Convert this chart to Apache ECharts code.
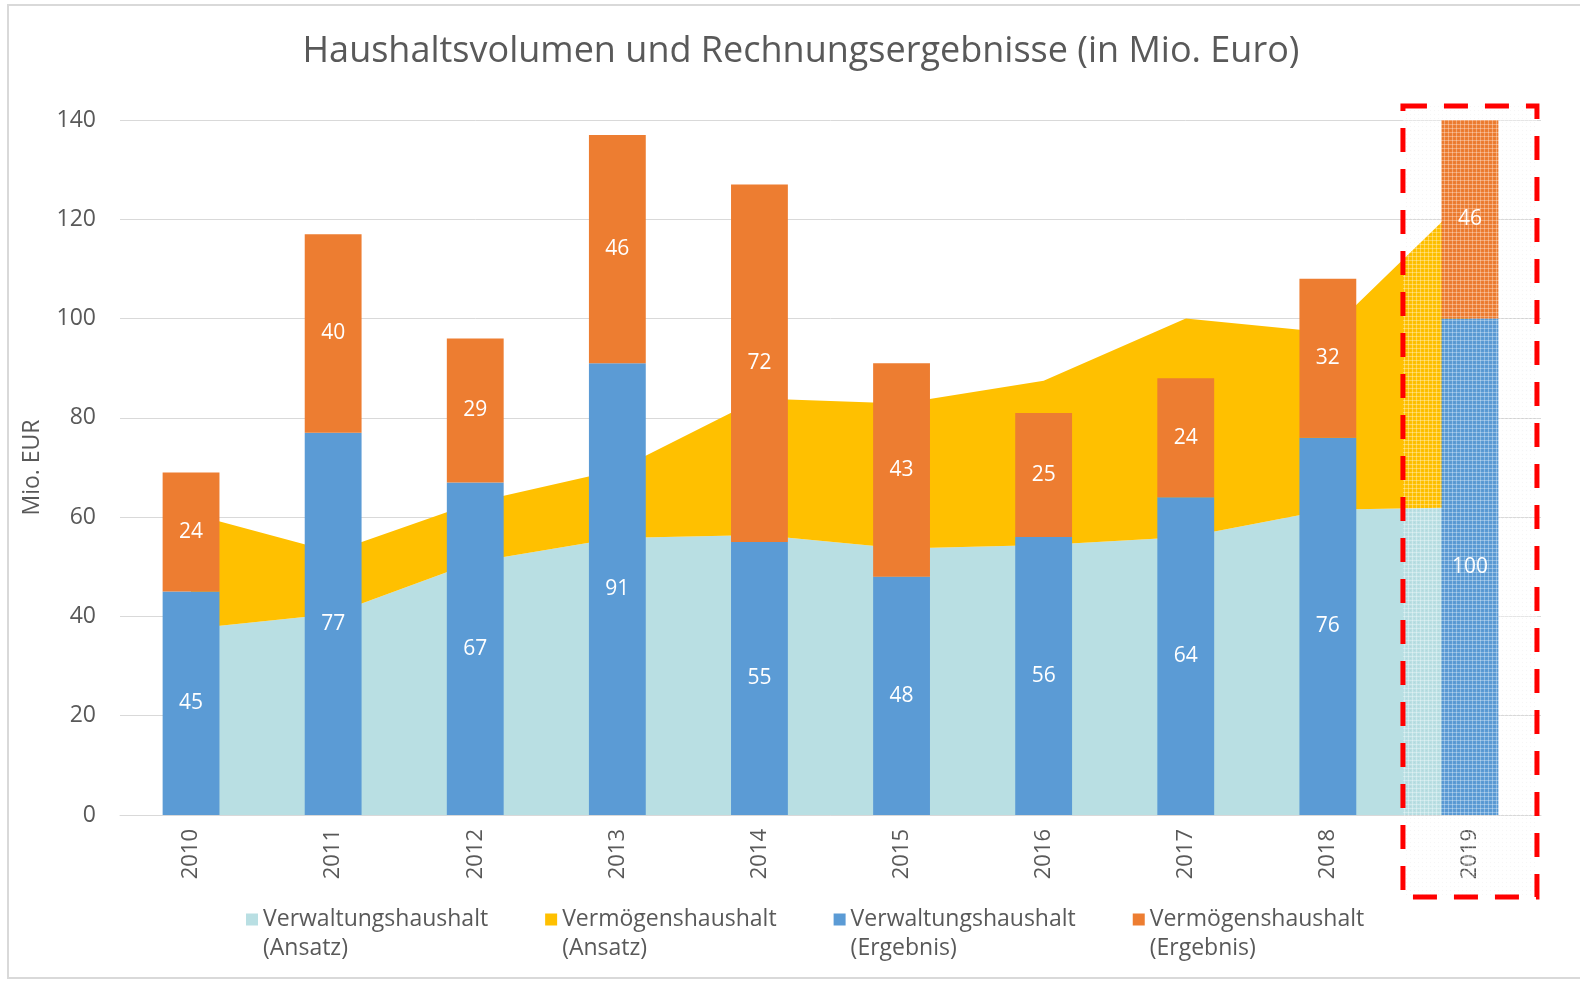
<!DOCTYPE html>
<html>
<head>
<meta charset="utf-8">
<title>Haushaltsvolumen und Rechnungsergebnisse</title>
<script src="https://cdn.jsdelivr.net/npm/echarts@6/dist/echarts.min.js"></script>
<style>
  html, body { margin: 0; padding: 0; background: #fff; }
  #chart { width: 1580px; height: 982px; }
</style>
</head>
<body>
<div id="chart"></div>
<script>
// Jahre
var years = ['2010', '2011', '2012', '2013', '2014', '2015', '2016', '2017', '2018', '2019']
// Ansatz (Flächen, gestapelt)
var verwaltungAnsatz = [37.5, 40.5, 51, 55.8, 56.4, 53.7, 54.4, 56, 61.5, 62]
var vermoegenAnsatz = [23.2, 12.5, 12, 13.7, 27.5, 29.2, 33.1, 44, 35.7, 63]
// Ergebnis (Säulen, gestapelt)
var verwaltungErgebnis = [45, 77, 67, 91, 55, 48, 56, 64, 76, 100]
var vermoegenErgebnis = [24, 40, 29, 46, 72, 43, 25, 24, 32, 46]
// Achse
var yTicks = [0, 20, 40, 60, 80, 100, 120, 140]

var textColor = '#595959'
var fontFamily = '"Open Sans", "Noto Sans", sans-serif'

var chart = echarts.init(document.getElementById('chart'))

// feines Raster für die Hervorhebung 2019
function makeMesh() {
  var c = document.createElement('canvas')
  c.width = 4
  c.height = 4
  var ctx = c.getContext('2d')
  ctx.fillStyle = 'rgba(255,255,255,0.32)'
  ctx.fillRect(0, 0, 4, 1)
  ctx.fillRect(0, 0, 1, 4)
  ctx.fillStyle = 'rgba(0,0,0,0.035)'
  ctx.fillRect(2, 2, 1, 1)
  return c
}

var labelStyle = {
  show: true,
  position: 'inside',
  color: '#fff',
  fontSize: 21,
  fontFamily: fontFamily
}

var option = {
  animation: false,
  textStyle: { fontFamily: fontFamily },
  title: {
    text: 'Haushaltsvolumen und Rechnungsergebnisse (in Mio. Euro)',
    left: 796,
    top: 29,
    textAlign: 'center',
    textStyle: { color: textColor, fontSize: 36, fontWeight: 'normal', fontFamily: fontFamily }
  },
  grid: {
    left: 120,
    right: 39,
    top: 120,
    bottom: 167
  },
  legend: {
    top: 871,
    left: 241,
    itemWidth: 12,
    itemHeight: 12,
    itemGap: 57,
    icon: 'rect',
    // leere erste Zeile, damit das Symbol auf Höhe der ersten Textzeile steht
    formatter: function (name) {
      return '\n' + name
    },
    textStyle: {
      color: textColor,
      fontSize: 23,
      lineHeight: 29,
      fontFamily: fontFamily
    },
    data: ['Verwaltungshaushalt\n(Ansatz)', 'Vermögenshaushalt\n(Ansatz)', 'Verwaltungshaushalt\n(Ergebnis)', 'Vermögenshaushalt\n(Ergebnis)']
  },
  xAxis: {
    type: 'category',
    data: years,
    axisTick: { show: false },
    axisLine: { lineStyle: { color: '#d9d9d9', width: 1 } },
    axisLabel: { rotate: 90, color: textColor, fontSize: 22, margin: 14 }
  },
  yAxis: {
    type: 'value',
    min: yTicks[0],
    max: yTicks[yTicks.length - 1],
    interval: 20,
    name: 'Mio. EUR',
    nameLocation: 'middle',
    nameGap: 76,
    nameTextStyle: { color: textColor, fontSize: 23 },
    axisLine: { show: false },
    axisTick: { show: false },
    axisLabel: { color: textColor, fontSize: 23, margin: 24 },
    splitLine: { lineStyle: { color: '#d9d9d9', width: 1 } }
  },
  series: [
    {
      name: 'Verwaltungshaushalt\n(Ansatz)',
      type: 'line',
      stack: 'ansatz',
      data: verwaltungAnsatz,
      symbol: 'none',
      lineStyle: { width: 0 },
      itemStyle: { color: '#B9DFE3' },
      areaStyle: { color: '#B9DFE3', opacity: 1 },
      z: 1
    },
    {
      name: 'Vermögenshaushalt\n(Ansatz)',
      type: 'line',
      stack: 'ansatz',
      data: vermoegenAnsatz,
      symbol: 'none',
      lineStyle: { width: 0 },
      itemStyle: { color: '#FFC000' },
      areaStyle: { color: '#FFC000', opacity: 1 },
      z: 1
    },
    {
      name: 'Verwaltungshaushalt\n(Ergebnis)',
      type: 'bar',
      stack: 'ergebnis',
      barCategoryGap: '60%',
      data: verwaltungErgebnis,
      itemStyle: { color: '#5B9BD5' },
      label: labelStyle,
      z: 3
    },
    {
      name: 'Vermögenshaushalt\n(Ergebnis)',
      type: 'bar',
      stack: 'ergebnis',
      barCategoryGap: '60%',
      data: vermoegenErgebnis,
      itemStyle: { color: '#ED7D31' },
      label: labelStyle,
      z: 3
    }
  ]
}

chart.setOption(option)

// Rahmen und Markierung 2019 an der Achse ausrichten
var cx = chart.convertToPixel({ xAxisIndex: 0 }, years[years.length - 1])
var yTop = chart.convertToPixel({ yAxisIndex: 0 }, yTicks[yTicks.length - 1])
var boxTop = yTop - 14
var boxBottom = 897

chart.setOption({
  graphic: [
    {
      type: 'rect',
      silent: true,
      z: -10,
      shape: { x: 8, y: 5, width: 1600, height: 973 },
      style: { fill: null, stroke: '#d9d9d9', lineWidth: 2 }
    },
    {
      type: 'rect',
      silent: true,
      z: 100,
      shape: { x: cx - 67, y: boxTop, width: 134, height: boxBottom - boxTop },
      style: { fill: { image: makeMesh(), repeat: 'repeat' }, stroke: null }
    },
    {
      type: 'rect',
      silent: true,
      z: 101,
      shape: { x: cx - 67, y: boxTop, width: 134, height: boxBottom - boxTop },
      style: { fill: null, stroke: '#FF0000', lineWidth: 5, lineDash: [24, 17] }
    }
  ]
})
</script>
</body>
</html>
